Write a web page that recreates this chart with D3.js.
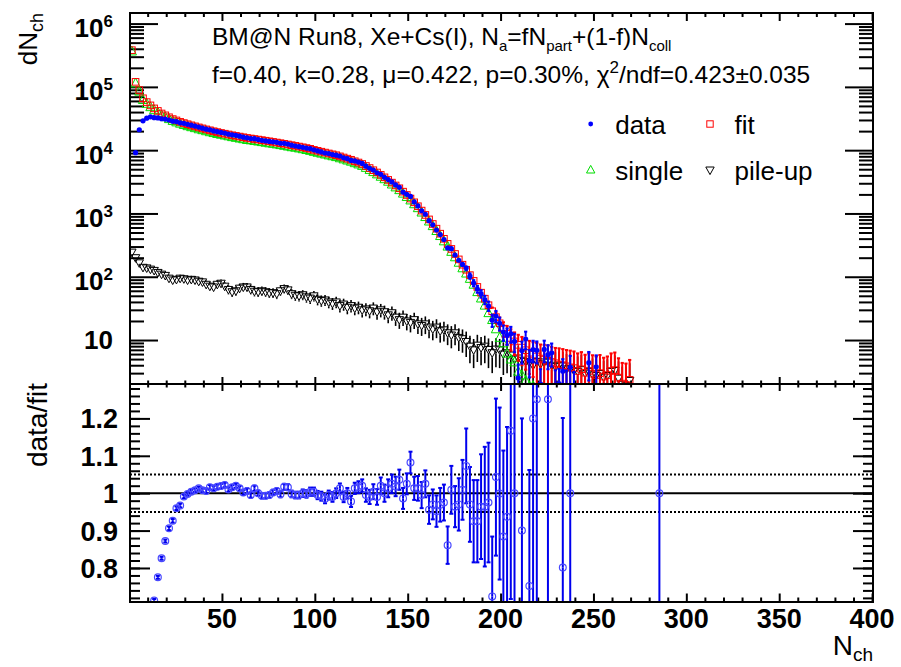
<!DOCTYPE html>
<html>
<head>
<meta charset="utf-8">
<script src="https://cdn.jsdelivr.net/npm/d3@7"></script>
<style>
	body { margin: 0; background: #fff; }
	svg { display: block; }
	text { font-family: "Liberation Sans", Arial, Helvetica, sans-serif; }
</style>
</head>
<body>
<svg id="chart" width="901" height="667"></svg>
<script>
// Histogram bins: width 2 starting at 0.5, so centres are 1.5, 3.5, ...
const firstBin = 1.5
const binWidth = 2

// fit = single + pile-up, counts per bin
const fitCounts = [
	380000, 120000, 89000, 66000, 57500, 51000, 45700, 41700, 38000, 35500,
	33100, 31000, 29500, 28000, 26800, 25700, 24700, 23800, 22900, 22100,
	21300, 20600, 19900, 19300, 18700, 18200, 17700, 17200, 16800, 16400,
	16000, 15600, 15300, 15000, 14700, 14400, 14100, 13800, 13500, 13200,
	12900, 12600, 12300, 12000, 11700, 11400, 11100, 10800, 10500, 10100,
	9770, 9460, 9160, 8870, 8590, 8320, 7980, 7660, 7350, 7050,
	6680, 6380, 6050, 5620, 5220, 4820, 4440, 4070, 3720, 3390,
	3070, 2770, 2500, 2210, 1960, 1720, 1500, 1300, 1110, 948,
	805, 682, 575, 479, 398, 331, 275, 229, 188, 155,
	129, 106, 86, 69, 56, 45, 35.5, 28.5, 23, 18.4,
	15.1, 12.6, 10.8, 9.5, 8.4, 7.6, 6.9, 6.3, 5.9, 5.5,
	5.1, 4.9, 4.7, 4.5, 4.3, 4.1, 4.0, 3.85, 3.7, 3.6,
	3.25, 3.45, 3.05, 3.25, 2.95, 2.8, 3.0, 2.65, 2.8, 3.25,
	3.35, 2.55, 2.05, 1.95, 2.35, 1.65, 1.55, 1.45, 1.25, 1.15,
	1.05, 1.05, 0.95
]

const fitErr = [
	0, 0, 0, 0, 0, 0, 0, 0, 0, 0,
	0, 0, 0, 0, 0, 0, 0, 0, 0, 0,
	0, 0, 0, 0, 0, 0, 0, 0, 0, 0,
	0, 0, 0, 0, 0, 0, 0, 0, 0, 0,
	0, 0, 0, 0, 0, 0, 0, 0, 0, 0,
	0, 0, 0, 0, 0, 0, 0, 0, 0, 0,
	0, 0, 0, 0, 0, 0, 0, 0, 0, 0,
	0, 0, 0, 0, 0, 0, 0, 0, 0, 0,
	0, 0, 0, 0, 0, 0, 0, 0, 0, 0,
	5, 4.6, 4.3, 4.7, 4.5, 4.6, 4.4, 4.1, 4.4, 4.3,
	4, 4.1, 4, 3.7, 3.7, 3.6, 3.5, 3.4, 3.3, 3.5,
	3.4, 3.5, 3.5, 3.3, 3.2, 3.3, 3.2, 3.1, 3.1, 3,
	2.9, 3, 2.8, 2.9, 2.8, 2.7, 2.8, 2.6, 2.7, 2.9,
	3, 2.6, 2.3, 2.3, 2.5, 0.3, 0.3, 0.3, 0.3, 0.3,
	0.3, 0.3, 0.3
]

const singleCounts = [
	368000, 115000, 85400, 63000, 54800, 48500, 43500, 39600, 36000, 33700,
	31400, 29400, 27900, 26600, 25400, 24300, 23400, 22600, 21700, 21000,
	20200, 19500, 18900, 18300, 17800, 17300, 16800, 16300, 15900, 15500,
	15100, 14700, 14500, 14200, 13900, 13600, 13300, 13000, 12800, 12500,
	12200, 11900, 11600, 11300, 11100, 10800, 10500, 10200, 9900, 9550,
	9240, 8950, 8670, 8390, 8130, 7880, 7560, 7260, 6960, 6670,
	6320, 6040, 5730, 5330, 4950, 4570, 4210, 3860, 3530, 3220,
	2910, 2620, 2370, 2090, 1850, 1630, 1420, 1230, 1050, 890,
	757, 640, 536, 446, 368, 304, 251, 206, 169, 138,
	114, 94, 76, 58, 46, 35.5, 27, 21, 15, 11,
	9, 6.2, 5, 4.5, 3.2, 2.8, 2.3, 1.9, 1.9, 0.9,
	0.9, 0.4, 0.2, 0.5, 0.5, 0.1, 0.1, 0.35, 0.2, 0.3,
	0.05, 0.05, 0.05, 0.05, 0.05, 0.05, 0.05, 0.05, 0.05, 0.05,
	0.05, 0.05, 0.05, 0.05, 0.05, 0.05, 0.05, 0.05, 0.05, 0.05,
	0.05, 0.05, 0.05
]

const pileupCounts = [
	245, 200, 166, 141, 138, 132, 126, 117, 110, 105,
	95, 89, 91, 95, 93, 89, 91, 89, 85, 83,
	76, 71, 69, 76, 79, 71, 63, 58, 60, 66,
	69, 69, 63, 59, 58, 60, 58, 56, 56, 54,
	60, 65, 62, 54, 51, 50, 52, 48, 46, 50,
	44, 42, 43, 40, 38, 40, 35, 37, 33, 35,
	32, 33, 30, 31, 29, 32, 28, 30, 28, 25,
	27, 23, 21, 23, 20, 19, 21, 18, 17, 18,
	16, 15, 16, 14, 14.5, 13, 12, 13, 11, 10.5,
	9.5, 8, 7, 8.3, 7.6, 8, 7.1, 6.3, 7.2, 7,
	6, 6.3, 5.8, 5, 5.2, 4.8, 4.6, 4.4, 4, 4.6,
	4.2, 4.5, 4.5, 4.0, 3.8, 4.0, 3.9, 3.5, 3.5, 3.3,
	3.2, 3.4, 3.0, 3.2, 2.9, 2.75, 2.95, 2.6, 2.75, 3.2,
	3.3, 2.5, 2.0, 1.9, 2.3, 1.6, 1.5, 1.4, 1.2, 1.1,
	1.0, 1.0, 0.9
]

const pileupErr = [
	20.6, 18.6, 17, 15.6, 15.4, 15.1, 14.7, 14.2, 13.8, 13.4,
	12.8, 12.4, 12.6, 12.8, 12.6, 12.4, 12.6, 12.4, 12.1, 12,
	11.4, 11, 10.9, 11.4, 11.7, 11, 10.4, 10, 10.2, 10.6,
	10.9, 10.9, 10.4, 10.1, 10, 10.2, 10, 9.8, 9.8, 9.7,
	10.2, 10.6, 10.3, 9.7, 9.4, 9.3, 9.4, 9.1, 8.9, 9.3,
	8.7, 8.5, 8.6, 8.3, 8.1, 8.3, 7.8, 8, 7.5, 7.8,
	7.4, 7.5, 7.2, 7.3, 7, 7.4, 7, 7.2, 7, 6.6,
	6.8, 6.3, 6, 6.3, 5.8, 5.8, 6, 5.6, 5.4, 5.6,
	5.3, 5.1, 5.3, 4.9, 5, 4.7, 4.6, 4.7, 4.3, 4.2,
	4.1, 3.7, 3.4, 3.8, 3.6, 3.7, 3.5, 3.3, 3.5, 3.4,
	3.2, 3.3, 3.2, 3, 3, 2.9, 2.8, 2.7, 2.6, 2.8,
	2.7, 2.8, 2.8, 2.6, 2.6, 2.6, 2.6, 2.5, 2.5, 2.4,
	2.3, 2.4, 2.2, 2.3, 2.2, 2.2, 2.2, 2.1, 2.2, 2.3,
	2.4, 2.1, 1.8, 1.8, 2, 0.3, 0.3, 0.3, 0.3, 0.3,
	0.3, 0.3, 0.3
]

// data/fit (null = empty bin)
const ratioValues = [
	null, 0.076, 0.236, 0.44, 0.557, 0.66, 0.713, 0.775, 0.826, 0.872,
	0.906, 0.926, 0.960, 0.967, 0.991, 0.998, 1.004, 1.008, 1.013, 1.008,
	1.006, 1.016, 1.013, 1.017, 1.019, 1.022, 1.010, 1.016, 1.020, 1.013,
	1.002, 1.006, 0.995, 1.013, 1.000, 0.993, 0.993, 0.995, 1.002, 1.006,
	0.997, 1.017, 1.016, 0.998, 0.995, 0.995, 1.000, 0.998, 1.004, 1.004,
	0.995, 0.992, 0.985, 0.995, 0.990, 1.000, 1.013, 0.990, 1.000, 0.978,
	1.013, 1.016, 1.020, 0.995, 0.990, 1.004, 0.990, 1.020, 1.000, 1.013,
	1.025, 1.018, 1.036, 0.986, 1.025, 1.082, 1.013, 1.013, 0.995, 1.025,
	0.956, 0.970, 0.952, 0.969, 0.975, 0.861, 1.009, 0.964, 0.970, 1.009,
	1.073, 0.970, 0.925, 0.925, 0.964, 0.964, 0.975, 0.724, 1.043, 0.999,
	0.884, 0.937, 1.167, 1.0, 0.3, 0.9, 1.5, 0.752, 1.2, 1.251,
	0.4, 1.45, 1.251, 1.4, 0.45, 0.5, 0.801, 0.5, 1.0, 0.5,
	null, null, null, 1.35, null, 1.35, null, null, null, null,
	null, null, null, null, null, null, null, null, null, null,
	null, null, 1.0
]

const ratioErrors = [
	0, 0.002, 0.003, 0.004, 0.004, 0.004, 0.004, 0.004, 0.004, 0.004,
	0.005, 0.005, 0.005, 0.005, 0.005, 0.005, 0.005, 0.005, 0.005, 0.005,
	0.006, 0.006, 0.006, 0.006, 0.006, 0.006, 0.006, 0.006, 0.006, 0.006,
	0.007, 0.007, 0.007, 0.007, 0.007, 0.007, 0.007, 0.007, 0.007, 0.007,
	0.008, 0.008, 0.008, 0.009, 0.009, 0.009, 0.01, 0.01, 0.011, 0.011,
	0.011, 0.012, 0.012, 0.012, 0.013, 0.013, 0.013, 0.014, 0.014, 0.015,
	0.015, 0.016, 0.017, 0.018, 0.019, 0.02, 0.021, 0.022, 0.023, 0.024,
	0.025, 0.026, 0.027, 0.028, 0.028, 0.029, 0.031, 0.033, 0.035, 0.036,
	0.038, 0.04, 0.042, 0.045, 0.048, 0.05, 0.064, 0.055, 0.07, 0.08,
	0.1, 0.1, 0.11, 0.11, 0.14, 0.16, 0.16, 0.16, 0.21, 0.23,
	0.23, 0.24, 0.45, 0.5, 0.3, 0.3, 0.5, 0.31, 0.5, 0.55,
	0.3, 0.6, 0.6, 0.6, 0.3, 0.3, 0.4, 0.3, 0.7, 0.3,
	0, 0, 0, 0.6, 0, 0.6, 0, 0, 0, 0,
	0, 0, 0, 0, 0, 0, 0, 0, 0, 0,
	0, 0, 1.0
]

const xMajorTicks = [50, 100, 150, 200, 250, 300, 350, 400]
const upperMajorTicks = [10, 100, 1000, 10000, 100000, 1000000]
const ratioMajorTicks = [0.8, 0.9, 1, 1.1, 1.2]
const ratioBands = [0.95, 1.05]

const titleLine2 = 'f=0.40, k=0.28, \u03bc=0.422, p=0.30%, \u03c7'
const legendItems = [
	{ name: 'data', kind: 'data', col: 0, row: 0 },
	{ name: 'fit', kind: 'fit', col: 1, row: 0 },
	{ name: 'single', kind: 'single', col: 0, row: 1 },
	{ name: 'pile-up', kind: 'pile', col: 1, row: 1 }
]

;(function() {
	const svg = d3.select('#chart')
	const F = { left: 130, right: 873, top: 13, mid: 384, bottom: 602 }

	const x = d3.scaleLinear().domain([0.5, 400.5]).range([F.left, F.right])
	const yTop = d3.scaleLog().domain([2.02, 1.47e6]).range([F.mid, F.top])
	const yRat = d3.scaleLinear().domain([0.709, 1.292]).range([F.bottom, F.mid])

	const colors = { data: '#0000ff', fit: '#ff0000', single: '#00dd00', pile: '#000000' }

	let bins = fitCounts.map((f, i) => {
		let r = ratioValues[i]
		return {
			n: firstBin + binWidth * i,
			fit: f,
			fitErr: fitErr[i],
			single: singleCounts[i],
			pile: pileupCounts[i],
			pileErr: pileupErr[i],
			ratio: r,
			ratioErr: ratioErrors[i],
			data: r == null ? null : r * f
		}
	})

	// clip regions for the two pads
	let defs = svg.append('defs')
	defs.append('clipPath').attr('id', 'clipTop').append('rect')
		.attr('x', F.left).attr('y', F.top)
		.attr('width', F.right - F.left).attr('height', F.mid - F.top)
	defs.append('clipPath').attr('id', 'clipBot').append('rect')
		.attr('x', F.left).attr('y', F.mid)
		.attr('width', F.right - F.left).attr('height', F.bottom - F.mid)

	// ---------- tick marks (inside the frame, ROOT style) ----------
	function tickAxis(axis, tx, ty) {
		svg.append('g')
			.attr('transform', `translate(${tx},${ty})`)
			.call(axis.tickFormat('').tickSizeOuter(0))
			.call(g => g.select('.domain').remove())
			.call(g => g.selectAll('line').attr('stroke', '#000').attr('stroke-width', 2))
	}

	let upperMinor = []
	for (let d = 0; d <= 6; d++) {
		for (let k = 2; k <= 9; k++) {
			let v = k * Math.pow(10, d)
			if (v > yTop.domain()[0] && v < yTop.domain()[1]) upperMinor.push(v)
		}
	}
	let xMinor = d3.range(1, 41).map(k => k * 10).filter(v => v % 50 !== 0)
	let ratioMinor = d3.range(36, 65).map(k => k * 0.02)

	// upper pad
	tickAxis(d3.axisLeft(yTop).tickValues(upperMajorTicks).tickSize(-28), F.left, 0)
	tickAxis(d3.axisLeft(yTop).tickValues(upperMinor).tickSize(-14), F.left, 0)
	tickAxis(d3.axisRight(yTop).tickValues(upperMajorTicks).tickSize(-28), F.right, 0)
	tickAxis(d3.axisRight(yTop).tickValues(upperMinor).tickSize(-14), F.right, 0)
	tickAxis(d3.axisTop(x).tickValues(xMajorTicks).tickSize(-8), 0, F.top)
	tickAxis(d3.axisTop(x).tickValues(xMinor).tickSize(-4), 0, F.top)
	tickAxis(d3.axisBottom(x).tickValues(xMajorTicks).tickSize(-7), 0, F.mid)
	tickAxis(d3.axisBottom(x).tickValues(xMinor).tickSize(-3.5), 0, F.mid)

	// lower pad
	tickAxis(d3.axisLeft(yRat).tickValues(ratioMajorTicks).tickSize(-20), F.left, 0)
	tickAxis(d3.axisLeft(yRat).tickValues(ratioMinor).tickSize(-10), F.left, 0)
	tickAxis(d3.axisRight(yRat).tickValues(ratioMajorTicks).tickSize(-20), F.right, 0)
	tickAxis(d3.axisRight(yRat).tickValues(ratioMinor).tickSize(-10), F.right, 0)
	tickAxis(d3.axisTop(x).tickValues(xMajorTicks).tickSize(-7), 0, F.mid)
	tickAxis(d3.axisTop(x).tickValues(xMinor).tickSize(-3.5), 0, F.mid)
	tickAxis(d3.axisBottom(x).tickValues(xMajorTicks).tickSize(-8.5), 0, F.bottom)
	tickAxis(d3.axisBottom(x).tickValues(xMinor).tickSize(-4.5), 0, F.bottom)

	// ---------- lower pad reference lines ----------
	let bot = svg.append('g').attr('clip-path', 'url(#clipBot)')
	bot.append('line')
		.attr('x1', F.left).attr('x2', F.right)
		.attr('y1', yRat(1)).attr('y2', yRat(1))
		.attr('stroke', '#000').attr('stroke-width', 2)
	bot.selectAll(null).data(ratioBands).join('line')
		.attr('x1', F.left).attr('x2', F.right)
		.attr('y1', d => yRat(d)).attr('y2', d => yRat(d))
		.attr('stroke', '#000').attr('stroke-width', 2)
		.attr('stroke-dasharray', '2,2')

	// ---------- error bars, drawn outside the marker like ROOT does ----------
	function errorBars(g, pts, yScale, val, lo, hi, style) {
		let segs = []
		pts.forEach(d => {
			let yc = yScale(val(d)), yHi = yScale(hi(d)), yLo = yScale(lo(d))
			if (yHi < yc - style.gapUp) segs.push({ n: d.n, y1: yc - style.gapUp, y2: yHi })
			if (yLo > yc + style.gapDown) segs.push({ n: d.n, y1: yc + style.gapDown, y2: yLo })
		})
		g.selectAll(null).data(segs).join('line')
			.attr('x1', d => x(d.n)).attr('x2', d => x(d.n))
			.attr('y1', d => d.y1).attr('y2', d => d.y2)
			.attr('stroke', style.color).attr('stroke-width', style.width)
		if (!style.cap) return
		g.selectAll(null).data(segs).join('line')
			.attr('x1', d => x(d.n) - style.cap).attr('x2', d => x(d.n) + style.cap)
			.attr('y1', d => d.y2).attr('y2', d => d.y2)
			.attr('stroke', style.color).attr('stroke-width', style.width)
	}

	const floorVal = 0.5
	const triUp = 'M0,-5L4.6,3.9L-4.6,3.9Z'
	const triDown = 'M0,4.6L4.2,-3L-4.2,-3Z'

	// ---------- lower pad: ratio ----------
	let ratioPts = bins.filter(d => d.ratio != null && d.ratio > yRat.domain()[0] && d.ratio < yRat.domain()[1])
	errorBars(bot, ratioPts, yRat, d => d.ratio, d => d.ratio - d.ratioErr, d => d.ratio + d.ratioErr,
		{ color: '#0000ee', width: 2, cap: 2, gapUp: 0, gapDown: 0 })
	bot.selectAll(null).data(ratioPts).join('circle')
		.attr('cx', d => x(d.n)).attr('cy', d => yRat(d.ratio))
		.attr('r', 3.4)
		.attr('fill', 'none').attr('stroke', '#4848ff').attr('stroke-width', 1.2)

	// ---------- upper pad ----------
	let top = svg.append('g').attr('clip-path', 'url(#clipTop)')

	let pilePts = bins.filter(d => d.pile > 0)
	errorBars(top, pilePts, yTop, d => d.pile, d => Math.max(d.pile - d.pileErr, floorVal), d => d.pile + d.pileErr,
		{ color: '#000', width: 1.6, cap: 0, gapUp: 3, gapDown: 4.6 })
	top.selectAll(null).data(pilePts).join('path')
		.attr('d', triDown)
		.attr('transform', d => `translate(${x(d.n)},${yTop(d.pile)})`)
		.attr('fill', 'none').attr('stroke', colors.pile).attr('stroke-width', 1)

	let singlePts = bins.filter(d => d.single > 0)
	top.selectAll(null).data(singlePts).join('path')
		.attr('d', triUp)
		.attr('transform', d => `translate(${x(d.n)},${yTop(d.single)})`)
		.attr('fill', 'none').attr('stroke', colors.single).attr('stroke-width', 1)

	let fitPts = bins.filter(d => d.fit > 0)
	errorBars(top, fitPts, yTop, d => d.fit, d => Math.max(d.fit - d.fitErr, floorVal), d => d.fit + d.fitErr,
		{ color: colors.fit, width: 2, cap: 1.6, gapUp: 3.3, gapDown: 3.3 })
	top.selectAll(null).data(fitPts).join('rect')
		.attr('x', d => x(d.n) - 3.3).attr('y', d => yTop(d.fit) - 3.3)
		.attr('width', 6.6).attr('height', 6.6)
		.attr('fill', 'none').attr('stroke', colors.fit).attr('stroke-width', 1)

	let dataPts = bins.filter(d => d.data != null && d.data > 0)
	errorBars(top, dataPts, yTop, d => d.data, d => Math.max(d.data - Math.sqrt(d.data), floorVal), d => d.data + Math.sqrt(d.data),
		{ color: colors.data, width: 2, cap: 1.6, gapUp: 2.4, gapDown: 2.4 })
	top.selectAll(null).data(dataPts).join('circle')
		.attr('cx', d => x(d.n)).attr('cy', d => yTop(d.data))
		.attr('r', 2.6).attr('fill', colors.data)

	// ---------- frames ----------
	svg.append('rect')
		.attr('x', F.left).attr('y', F.top)
		.attr('width', F.right - F.left).attr('height', F.mid - F.top)
		.attr('fill', 'none').attr('stroke', '#000').attr('stroke-width', 2)
	svg.append('rect')
		.attr('x', F.left).attr('y', F.mid)
		.attr('width', F.right - F.left).attr('height', F.bottom - F.mid)
		.attr('fill', 'none').attr('stroke', '#000').attr('stroke-width', 2)

	// ---------- tick labels ----------
	let upLab = svg.append('g').attr('font-weight', 'bold').attr('text-anchor', 'end')
	upperMajorTicks.forEach(v => {
		let e = Math.round(Math.log10(v))
		let t = upLab.append('text')
			.attr('x', 113)
			.attr('y', yTop(v) + (e === 1 ? 8.5 : 13.5))
			.attr('font-size', 26)
		t.append('tspan').text('10')
		if (e !== 1) {
			t.append('tspan').attr('font-size', 17).attr('dy', -10).text(String(e))
		}
	})

	svg.append('g').attr('font-weight', 'bold').attr('text-anchor', 'end')
		.selectAll(null).data(ratioMajorTicks).join('text')
		.attr('x', 118).attr('y', d => yRat(d) + 10)
		.attr('font-size', 27)
		.text(d => d3.format('')(d))

	svg.append('g').attr('font-weight', 'bold').attr('text-anchor', 'middle')
		.selectAll(null).data(xMajorTicks).join('text')
		.attr('x', d => x(d)).attr('y', 628)
		.attr('font-size', 27)
		.text(d => d)

	// ---------- axis titles ----------
	let yt = svg.append('text')
		.attr('transform', `translate(37,${F.top}) rotate(-90)`)
		.attr('text-anchor', 'end').attr('font-size', 26)
	yt.append('tspan').text('dN')
	yt.append('tspan').attr('font-size', 18).attr('dy', 6).text('ch')

	svg.append('text')
		.attr('transform', `translate(47,${F.mid - 1}) rotate(-90)`)
		.attr('text-anchor', 'end').attr('font-size', 28)
		.text('data/fit')

	let xt = svg.append('text')
		.attr('x', F.right).attr('y', 655)
		.attr('text-anchor', 'end').attr('font-size', 28)
	xt.append('tspan').text('N')
	xt.append('tspan').attr('font-size', 19).attr('dy', 6).text('ch')

	// ---------- header text ----------
	let l1 = svg.append('text').attr('x', 212).attr('y', 45).attr('font-size', 24.5)
	l1.append('tspan').text('BM@N Run8, Xe+Cs(I), N')
	l1.append('tspan').attr('font-size', 15).attr('dy', 6).text('a')
	l1.append('tspan').attr('dy', -6).text('=fN')
	l1.append('tspan').attr('font-size', 15).attr('dy', 6).text('part')
	l1.append('tspan').attr('dy', -6).text('+(1-f)N')
	l1.append('tspan').attr('font-size', 15).attr('dy', 6).text('coll')

	let l2 = svg.append('text').attr('x', 212).attr('y', 83).attr('font-size', 24.5)
	l2.append('tspan').text(titleLine2)
	l2.append('tspan').attr('font-size', 17).attr('dy', -10).text('2')
	l2.append('tspan').attr('dy', 10).text('/ndf=0.423\u00b10.035')

	// ---------- legend ----------
	let leg = svg.append('g')
	legendItems.forEach(it => {
		let mx = it.col === 0 ? 590.7 : 710
		let my = it.row === 0 ? 124 : 170
		let g = leg.append('g').attr('transform', `translate(${mx},${my})`)
		if (it.kind === 'data') {
			g.append('circle').attr('r', 2.4).attr('fill', colors.data)
		} else if (it.kind === 'fit') {
			g.append('rect').attr('x', -3.2).attr('y', -3.2).attr('width', 6.4).attr('height', 6.4)
				.attr('fill', 'none').attr('stroke', colors.fit).attr('stroke-width', 1)
		} else if (it.kind === 'single') {
			g.append('path').attr('d', 'M0,-4.6L4.2,3L-4.2,3Z')
				.attr('fill', 'none').attr('stroke', colors.single).attr('stroke-width', 1)
		} else {
			g.append('path').attr('d', triDown)
				.attr('fill', 'none').attr('stroke', colors.pile).attr('stroke-width', 1)
		}
		leg.append('text')
			.attr('x', mx + 24.5).attr('y', it.row === 0 ? 134 : 180)
			.attr('font-size', 26)
			.text(it.name)
	})
})();
</script>
</body>
</html>
